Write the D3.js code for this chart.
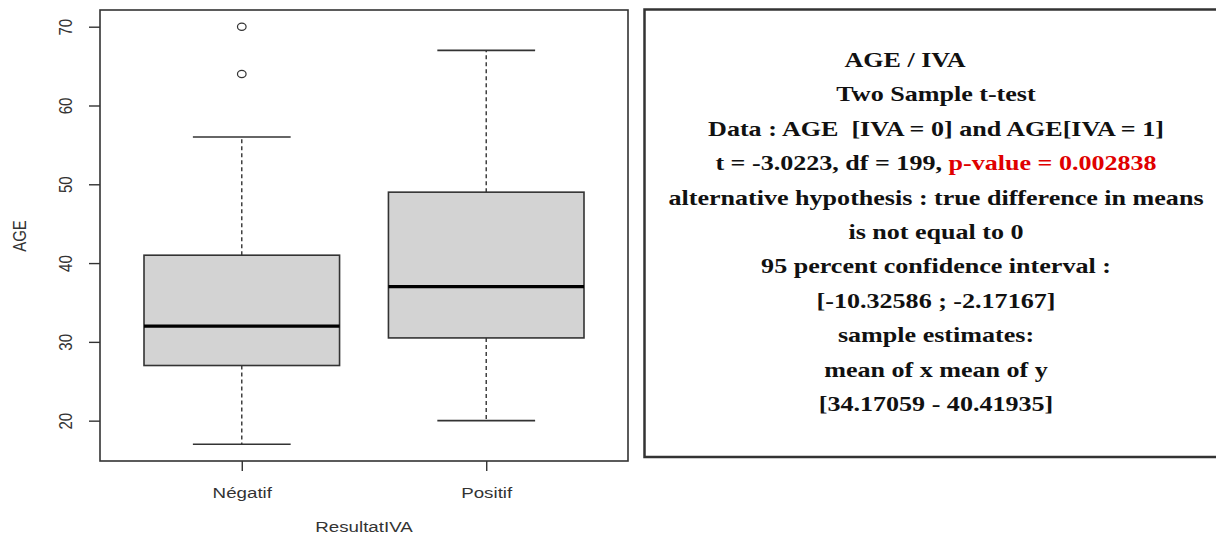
<!DOCTYPE html>
<html>
<head>
<meta charset="utf-8">
<script src="https://cdn.jsdelivr.net/npm/d3@7"></script>
<style>
  body { margin: 0; background: #fff; }
  svg { display: block; }
</style>
</head>
<body>
<div id="chart"></div>
<script>

var width = 1216,
    height = 537;

// Boxplot stats
var groups = ["Négatif", "Positif"];
var lowerWhisker = [17, 20];
var q1 = [27, 30.5];
var median = [32, 37];
var q3 = [41, 49];
var upperWhisker = [56, 67];
var outliers = [[64, 70], []];
var yTicks = [20, 30, 40, 50, 60, 70];

// t-test output lines (last part of line 4 is red)
var statLines = [
  "AGE / IVA",
  "Two Sample t-test",
  "Data : AGE  [IVA = 0] and AGE[IVA = 1]",
  "t = -3.0223, df = 199, ",
  "alternative hypothesis : true difference in means",
  "is not equal to 0",
  "95 percent confidence interval :",
  "[-10.32586 ; -2.17167]",
  "sample estimates:",
  "mean of x mean of y",
  "[34.17059 - 40.41935]"
];
var pValueText = "p-value = 0.002838";

var plot = { left: 100, top: 10, right: 628, bottom: 461 };

// the source picture is stretched sideways, so text is too
var sx = 1.25;

var svg = d3.select("#chart").append("svg")
    .attr("width", width)
    .attr("height", height);

// R-style axis extension (4%)
var yMin = d3.min(lowerWhisker), yMax = d3.max(outliers.flat().concat(upperWhisker));
var yPad = (yMax - yMin) * 0.04;
var y = d3.scaleLinear()
    .domain([yMin - yPad, yMax + yPad])
    .range([plot.bottom, plot.top]);

var xPad = groups.length * 0.04;
var x = d3.scaleLinear()
    .domain([0.5 - xPad, groups.length + 0.5 + xPad])
    .range([plot.left, plot.right]);

var boxW = x(1.4) - x(1);   // half width of box (0.8 total)
var capW = boxW / 2;

var stroke = "#333";

var g = svg.append("g");

var box = g.selectAll(".box")
    .data(groups)
  .enter().append("g")
    .attr("class", "box");

// whiskers (dashed)
box.append("line")
    .attr("x1", function(d, i) { return x(i + 1); })
    .attr("x2", function(d, i) { return x(i + 1); })
    .attr("y1", function(d, i) { return y(q3[i]); })
    .attr("y2", function(d, i) { return y(upperWhisker[i]); })
    .attr("stroke", stroke).attr("stroke-width", 1.4)
    .attr("stroke-dasharray", "4,3");
box.append("line")
    .attr("x1", function(d, i) { return x(i + 1); })
    .attr("x2", function(d, i) { return x(i + 1); })
    .attr("y1", function(d, i) { return y(q1[i]); })
    .attr("y2", function(d, i) { return y(lowerWhisker[i]); })
    .attr("stroke", stroke).attr("stroke-width", 1.4)
    .attr("stroke-dasharray", "4,3");

// caps
[upperWhisker, lowerWhisker].forEach(function(arr) {
  box.append("line")
      .attr("x1", function(d, i) { return x(i + 1) - capW; })
      .attr("x2", function(d, i) { return x(i + 1) + capW; })
      .attr("y1", function(d, i) { return y(arr[i]); })
      .attr("y2", function(d, i) { return y(arr[i]); })
      .attr("stroke", stroke).attr("stroke-width", 1.6);
});

// boxes
box.append("rect")
    .attr("x", function(d, i) { return x(i + 1) - boxW; })
    .attr("y", function(d, i) { return y(q3[i]); })
    .attr("width", boxW * 2)
    .attr("height", function(d, i) { return y(q1[i]) - y(q3[i]); })
    .attr("fill", "#d3d3d3")
    .attr("stroke", stroke).attr("stroke-width", 1.6);

// medians
box.append("line")
    .attr("x1", function(d, i) { return x(i + 1) - boxW; })
    .attr("x2", function(d, i) { return x(i + 1) + boxW; })
    .attr("y1", function(d, i) { return y(median[i]); })
    .attr("y2", function(d, i) { return y(median[i]); })
    .attr("stroke", "#000").attr("stroke-width", 3.2);

// outliers (slightly wide, like the stretched source)
box.each(function(d, i) {
  d3.select(this).selectAll("ellipse")
      .data(outliers[i])
    .enter().append("ellipse")
      .attr("cx", x(i + 1))
      .attr("cy", function(v) { return y(v); })
      .attr("rx", 4.3)
      .attr("ry", 3.6)
      .attr("fill", "none")
      .attr("stroke", stroke).attr("stroke-width", 1.2);
});

// frame
svg.append("rect")
    .attr("x", plot.left).attr("y", plot.top)
    .attr("width", plot.right - plot.left)
    .attr("height", plot.bottom - plot.top)
    .attr("fill", "none")
    .attr("stroke", stroke).attr("stroke-width", 1.6);

var sansFont = "Liberation Sans, Arial, sans-serif";

// y axis
var yAxis = d3.axisLeft(y).tickValues(yTicks).tickSize(11).tickPadding(0);
var ya = svg.append("g")
    .attr("transform", "translate(" + plot.left + ",0)")
    .call(yAxis);
ya.select(".domain").remove();
ya.selectAll(".tick line").attr("stroke", stroke).attr("stroke-width", 1.4);
ya.selectAll(".tick text")
    .attr("x", 0).attr("dy", 0)
    .attr("transform", "translate(-28,0) scale(" + sx + ",1) rotate(-90)")
    .attr("text-anchor", "middle")
    .attr("fill", "#333")
    .style("font-family", sansFont)
    .style("font-size", "15px");

// x axis
var xAxis = d3.axisBottom(x).tickValues([1, 2])
    .tickFormat(function(d) { return groups[d - 1]; })
    .tickSize(10).tickPadding(16);
var xa = svg.append("g")
    .attr("transform", "translate(0," + plot.bottom + ")")
    .call(xAxis);
xa.select(".domain").remove();
xa.selectAll(".tick line").attr("stroke", stroke).attr("stroke-width", 1.4);
xa.selectAll(".tick text")
    .attr("transform", "scale(" + sx + ",1)")
    .attr("fill", "#333")
    .style("font-family", sansFont)
    .style("font-size", "15px");

// axis titles
svg.append("text")
    .attr("transform", "translate(" + (plot.left + plot.right) / 2 + ",532) scale(" + sx + ",1)")
    .attr("text-anchor", "middle")
    .attr("fill", "#333")
    .style("font-family", sansFont)
    .style("font-size", "15px")
    .text("ResultatIVA");

svg.append("text")
    .attr("transform", "translate(26,236) scale(" + sx + ",1) rotate(-90)")
    .attr("text-anchor", "middle")
    .attr("fill", "#333")
    .style("font-family", sansFont)
    .style("font-size", "15px")
    .text("AGE");

// stats panel
svg.append("rect")
    .attr("x", 644.5).attr("y", 9.5)
    .attr("width", 640).attr("height", 447.5)
    .attr("fill", "none")
    .attr("stroke", "#333").attr("stroke-width", 2.5);

var cx = 936, firstBase = 67, lineStep = 34.4, tsx = 1.185;

var txt = svg.append("g")
    .style("font-family", "Liberation Serif, Times New Roman, serif")
    .style("font-weight", "bold")
    .style("font-size", "22px")
    .attr("fill", "#111");

statLines.forEach(function(s, i) {
  var t = txt.append("text")
      .attr("transform", "translate(" + (i === 0 ? 905 : cx) + "," + (firstBase + i * lineStep) + ") scale(" + tsx + ",1)")
      .attr("text-anchor", "middle")
      .attr("xml:space", "preserve")
      .style("white-space", "pre")
      .text(s);
  if (i === 3) {
    t.append("tspan").attr("fill", "#e00000").text(pValueText);
  }
});

</script>
</body>
</html>
